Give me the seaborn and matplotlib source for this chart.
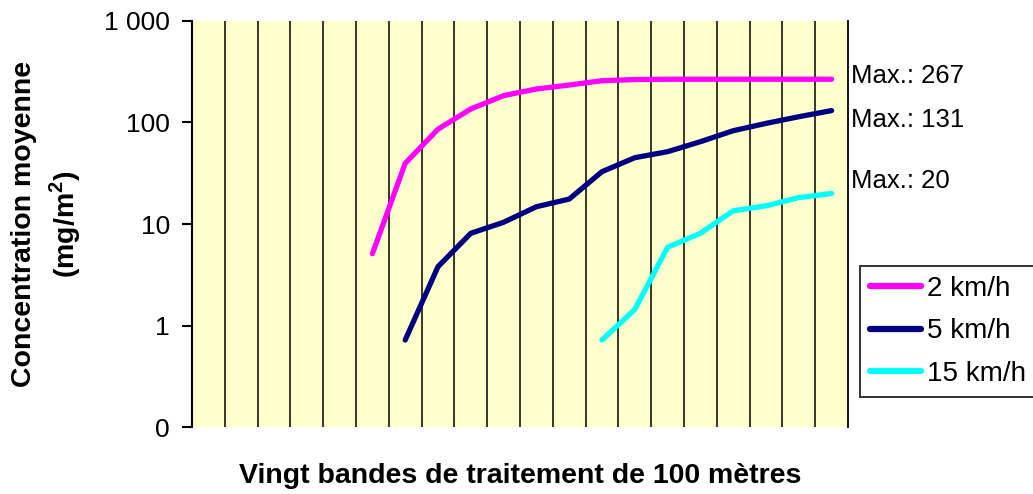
import numpy as np
import pandas as pd
import matplotlib
matplotlib.use("Agg")
import matplotlib.pyplot as plt
import seaborn as sns

# Values (20 bands of 100 m, log scale).
bands = list(range(1, 21))
c_2kmh = [None, None, None, None, None, 5.1, 39.6, 86, 136, 184, 214, 234, 258, 265, 267, 267, 267, 267, 267, 267]
c_5kmh = [None, None, None, None, None, None, 0.72, 3.8, 8.1, 10.4, 14.8, 17.6, 32.8, 45, 51.6, 64.7, 83, 98, 114, 131]
c_15kmh = [None] * 12 + [0.72, 1.44, 5.9, 8.1, 13.5, 15.1, 18.2, 20]
series = ["2 km/h", "5 km/h", "15 km/h"]
colors = ["#FF00FF", "#000080", "#00FFFF"]
max_labels = ["Max.: 267", "Max.: 131", "Max.: 20"]
ytick_vals = [0.1, 1, 10, 100, 1000]
ytick_labels = ["0", "1", "10", "100", "1 000"]

rows = []
for name, vals in zip(series, [c_2kmh, c_5kmh, c_15kmh]):
    for b, v in zip(bands, vals):
        if v is not None:
            rows.append({"band": b, "conc": v, "speed": name})
df = pd.DataFrame(rows)

sns.set_style("white")
plt.rcParams["font.family"] = ["Liberation Sans", "DejaVu Sans"]
plt.rcParams["text.color"] = "black"
plt.rcParams["axes.labelcolor"] = "black"
plt.rcParams["ytick.color"] = "black"
plt.rcParams["mathtext.fontset"] = "custom"
plt.rcParams["mathtext.bf"] = "Liberation Sans:bold"
plt.rcParams["mathtext.rm"] = "Liberation Sans:bold"

fig = plt.figure(figsize=(10.33, 4.94), dpi=100)
ax = fig.add_axes([192 / 1033, 1 - 427 / 494, 656 / 1033, 406 / 494])
ax.set_facecolor("#FFFFCC")

sns.lineplot(data=df, x="band", y="conc", hue="speed", hue_order=series,
             palette=colors, linewidth=3.8, ax=ax, legend=False,
             solid_capstyle="round", solid_joinstyle="round")

ax.set_yscale("log")
ax.set_ylim(0.1, 1000)
ax.set_xlim(0.5, 20.5)
ax.set_yticks(ytick_vals)
ax.set_yticklabels(ytick_labels)
ax.yaxis.set_minor_locator(matplotlib.ticker.NullLocator())
ax.set_xticks([])
ax.set_ylabel("")
ax.tick_params(axis="y", which="major", direction="out", length=7, width=1.5,
               labelsize=19, pad=9, left=True, color="black",
               labelcolor="black")

# band separators
for b in np.arange(1.5, 20.5, 1):
    ax.axvline(b, color="black", linewidth=1.1, zorder=1)

for s in ["top", "bottom"]:
    ax.spines[s].set_visible(False)
ax.spines["right"].set_color("black")
ax.spines["right"].set_linewidth(1.3)
ax.spines["left"].set_color("black")
ax.spines["left"].set_linewidth(1.5)

# max annotations at the right
last_vals = [c_2kmh[-1], c_5kmh[-1], c_15kmh[-1]]
offsets = [2, -7, 9]
for lab, v, off in zip(max_labels, last_vals, offsets):
    ax.annotate(lab, xy=(1.0, v), xycoords=("axes fraction", "data"),
                xytext=(2, off), textcoords="offset points",
                fontsize=18.5, va="center", ha="left", annotation_clip=False)

ax.set_xlabel("Vingt bandes de traitement de 100 mètres", fontsize=20.5,
              fontweight="bold", labelpad=26, color="black")
fig.text(47 / 1033, 1 - 224 / 494, "Concentration moyenne\n(mg/m$^{\\mathbf{2}}$)",
         rotation=90, ha="center", va="center", fontsize=20.5,
         fontweight="bold", multialignment="center", linespacing=1.4)

handles = [matplotlib.lines.Line2D([], [], color=c, linewidth=4.5,
                                   solid_capstyle="round") for c in colors]
leg = fig.legend(handles, series, loc="upper left",
                 bbox_to_anchor=(860 / 1033, 1 - 266 / 494),
                 fontsize=20, frameon=True, fancybox=False,
                 handlelength=1.85, handletextpad=0.2, borderpad=0.35,
                 labelspacing=0.6, borderaxespad=0)
leg.get_frame().set_edgecolor("black")
leg.get_frame().set_linewidth(1.4)
for t in leg.get_texts():
    t.set_color("black")

fig.savefig("out.png", dpi=100, facecolor="white")
